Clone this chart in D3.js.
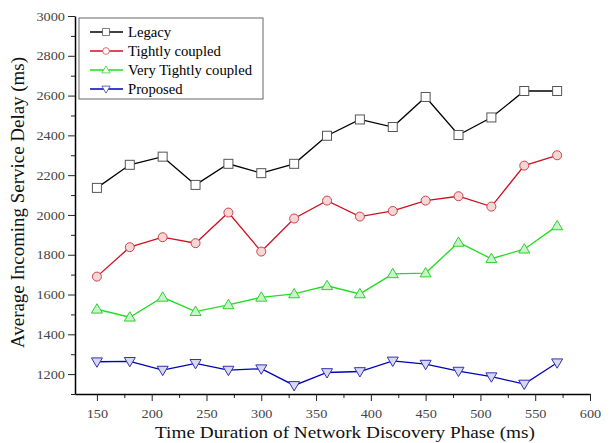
<!DOCTYPE html>
<html>
<head>
<meta charset="utf-8">
<script src="https://d3js.org/d3.v7.min.js"></script>
<style>
  body { margin: 0; background: #fff; }
  svg { display: block; }
</style>
</head>
<body>
<svg id="chart" width="612" height="443"></svg>
<script>
// x positions (ms)
const phase = [150, 180, 210, 240, 270, 300, 330, 360, 390, 420, 450, 480, 510, 540, 570];

// series values
const legacy = [2136, 2252, 2293, 2151, 2257, 2210, 2257, 2398, 2480, 2442, 2593, 2402, 2490, 2623, 2623];
const tight = [1690, 1838, 1888, 1858, 2012, 1816, 1982, 2072, 1992, 2020, 2072, 2094, 2042, 2248, 2300];
const veryTight = [1526, 1486, 1586, 1514, 1548, 1586, 1603, 1644, 1603, 1704, 1708, 1862, 1780, 1828, 1945];
const proposed = [1262, 1264, 1220, 1254, 1220, 1227, 1143, 1208, 1213, 1266, 1250, 1215, 1187, 1150, 1257];

const seriesNames = ["Legacy", "Tightly coupled", "Very Tightly coupled", "Proposed"];
const xTicks = [150, 200, 250, 300, 350, 400, 450, 500, 550, 600];
const yTicks = [1200, 1400, 1600, 1800, 2000, 2200, 2400, 2600, 2800, 3000];

const series = [
  { name: seriesNames[0], values: legacy, line: "#000000", stroke: "#555", fill: "#fff", shape: "square" },
  { name: seriesNames[1], values: tight, line: "#cc1122", stroke: "#cc4444", fill: "#f6d6d6", shape: "circle" },
  { name: seriesNames[2], values: veryTight, line: "#22dd22", stroke: "#33cc33", fill: "#c8f5c8", shape: "up" },
  { name: seriesNames[3], values: proposed, line: "#0000bb", stroke: "#3333aa", fill: "#d8d8f4", shape: "down" }
];

const svg = d3.select("#chart");
const plotL = 75, plotR = 590, plotT = 16, plotB = 394;
const serif = "'Liberation Serif', 'Times New Roman', serif";

const x = d3.scaleLinear().domain([130, 600]).range([plotL, plotR]);
const y = d3.scaleLinear().domain([1100, 3000]).range([plotB, plotT]);

// the source figure is a little stretched sideways; widen text to match
function widen(sel, k) {
  sel.each(function () {
    const w = this.getComputedTextLength();
    d3.select(this).attr("textLength", w * k).attr("lengthAdjust", "spacingAndGlyphs");
  });
}

// minor ticks
svg.append("g")
  .attr("transform", `translate(0,${plotB})`)
  .call(d3.axisBottom(x).tickValues(d3.range(175, 600, 50)).tickSize(4).tickFormat(""))
  .call(g => g.select(".domain").remove());
svg.append("g")
  .attr("transform", `translate(${plotL},0)`)
  .call(d3.axisLeft(y).tickValues(d3.range(1100, 3000, 200)).tickSize(4).tickFormat(""))
  .call(g => g.select(".domain").remove());

// major axes
const xAxis = svg.append("g")
  .attr("transform", `translate(0,${plotB})`)
  .call(d3.axisBottom(x).tickValues(xTicks).tickFormat(d3.format("d")).tickSize(7).tickSizeOuter(0).tickPadding(8))
  .call(g => g.select(".domain").attr("stroke-width", 1.5));
const yAxis = svg.append("g")
  .attr("transform", `translate(${plotL},0)`)
  .call(d3.axisLeft(y).tickValues(yTicks).tickFormat(d3.format("d")).tickSize(7).tickSizeOuter(0).tickPadding(3))
  .call(g => g.select(".domain").attr("stroke-width", 1.5));

svg.selectAll(".tick line").attr("stroke", "#222");
[xAxis, yAxis].forEach(a => {
  a.attr("font-family", serif).attr("font-size", 13);
  a.selectAll("text").attr("fill", "#444");
  widen(a.selectAll("text"), 1.1);
});

// titles
svg.append("text")
  .attr("font-family", serif).attr("font-size", 17.5).attr("fill", "#111")
  .attr("x", 345).attr("y", 438).attr("text-anchor", "middle")
  .text("Time Duration of Network Discovery Phase (ms)")
  .call(t => widen(t, 1.1));
svg.append("text")
  .attr("font-family", serif).attr("font-size", 18).attr("fill", "#111")
  .attr("transform", "translate(24,202.5) rotate(-90)").attr("text-anchor", "middle")
  .attr("textLength", 291).attr("lengthAdjust", "spacingAndGlyphs")
  .text("Average Incoming Service Delay (ms)");

function marker(g, shape, cx, cy) {
  if (shape === "square") {
    return g.append("rect").attr("x", cx - 4.5).attr("y", cy - 4.5).attr("width", 9).attr("height", 9);
  }
  if (shape === "circle") {
    return g.append("circle").attr("cx", cx).attr("cy", cy).attr("r", 4.5);
  }
  const h = 5.5;
  const pts = shape === "up"
    ? [[cx, cy - h], [cx - h, cy + h * 0.7], [cx + h, cy + h * 0.7]]
    : [[cx, cy + h], [cx - h, cy - h * 0.7], [cx + h, cy - h * 0.7]];
  return g.append("polygon").attr("points", pts.map(p => p.join(",")).join(" "));
}

const line = d3.line().x((d, i) => x(phase[i])).y(d => y(d));

series.forEach(s => {
  const g = svg.append("g");
  g.append("path").datum(s.values)
    .attr("d", line).attr("fill", "none")
    .attr("stroke", s.line).attr("stroke-width", 1.3);
  s.values.forEach((v, i) => {
    marker(g, s.shape, x(phase[i]), y(v))
      .attr("fill", s.fill).attr("stroke", s.stroke).attr("stroke-width", 1);
  });
});

// legend
const lg = svg.append("g");
lg.append("rect").attr("x", 79).attr("y", 18).attr("width", 184).attr("height", 81)
  .attr("fill", "#fff").attr("stroke", "#666").attr("stroke-width", 1);
series.forEach((s, i) => {
  const cy = 32 + i * 19;
  lg.append("line").attr("x1", 90).attr("x2", 123).attr("y1", cy).attr("y2", cy)
    .attr("stroke", s.line).attr("stroke-width", 1.3);
  const m = marker(lg, s.shape, 106, cy);
  m.attr("fill", "#fff").attr("stroke", s.stroke).attr("stroke-width", 1)
    .attr("transform", `translate(106,${cy}) scale(0.75) translate(-106,${-cy})`);
  lg.append("text").attr("x", 128).attr("y", cy + 5)
    .attr("font-family", serif).attr("font-size", 14.7).attr("fill", "#000")
    .text(s.name);
});
</script>
</body>
</html>
